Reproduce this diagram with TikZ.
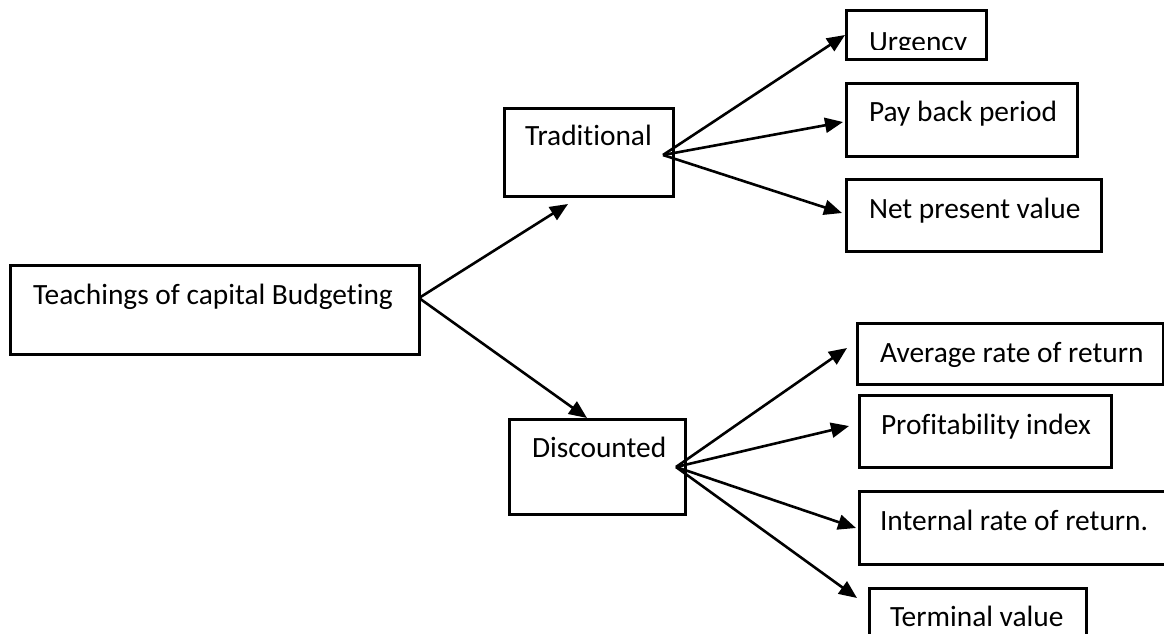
\documentclass[tikz,border=0pt]{standalone}
\usepackage{fontspec}
\setmainfont{Carlito}[Ligatures=NoCommon]
\usetikzlibrary{arrows.meta}
\tikzset{
  box/.style={draw=black, line width=3pt, fill=none, inner sep=0pt, outer sep=0pt},
  lbl/.style={anchor=base west, inner sep=0pt, outer sep=0pt, text=black, font=\fontsize{29.4}{34}\selectfont},
  arr/.style={draw=black, line width=2.6pt, -{Triangle[length=18pt,width=15pt]}}
}
\begin{document}
\begin{tikzpicture}[x=1pt,y=-1pt]
\useasboundingbox (0,0) rectangle (1164,633);
\clip (0,0) rectangle (1164,633);
\fill[white] (0,0) rectangle (1164,633);
% boxes
\node[box, minimum width=409pt, minimum height=89pt] (teach) at (214.5,309.5) {};
\node[box, minimum width=169pt, minimum height=88pt] (trad) at (588.5,152) {};
\node[box, minimum width=176pt, minimum height=95pt] (disc) at (597,466.5) {};
\node[box, minimum width=140pt, minimum height=49pt] (urg) at (916,34.5) {};
\node[box, minimum width=231pt, minimum height=73pt] (pay) at (961.5,119.5) {};
\node[box, minimum width=255pt, minimum height=72pt] (npv) at (973.5,215) {};
\node[box, minimum width=306pt, minimum height=61pt] (avg) at (1010,353.5) {};
\node[box, minimum width=252pt, minimum height=72pt] (prof) at (985,431) {};
\node[box, minimum width=311pt, minimum height=73pt] (irr) at (1014.5,527.5) {};
\node[box, minimum width=217pt, minimum height=72pt] (term) at (977.5,624) {};
% texts
\node[lbl] (teachT) at (33,304) {Teachings of capital Budgeting};
\node[lbl] (tradT) at (525,145) {Traditional};
\node[lbl] (discT) at (532,457) {Discounted};
\begin{scope}
\clip (846,10) rectangle (987,49);
\node[lbl] (urgT) at (869,51) {Urgency};
\end{scope}
\node[lbl] (payT) at (869,121) {Pay back period};
\node[lbl] (npvT) at (869,218) {Net present value};
\node[lbl] (avgT) at (880,362) {Average rate of return};
\node[lbl] (profT) at (881,434) {Profitability index};
\node[lbl] (irrT) at (880,530) {Internal rate of return.};
\node[lbl] (termT) at (890,626) {Terminal value};
% connector points
\coordinate (teachO) at (419,298);
\coordinate (tradIn) at (568,204);
\coordinate (discIn) at (587,418);
\coordinate (tradO) at (663,155);
\coordinate (urgIn) at (845,35);
\coordinate (payIn) at (843,122);
\coordinate (npvIn) at (842,213);
\coordinate (discO) at (676,467);
\coordinate (avgIn) at (847,348);
\coordinate (profIn) at (849,426);
\coordinate (irrIn) at (856,528);
\coordinate (termIn) at (857,598);
% arrows
\draw[arr] (teachO) -- (tradIn);
\draw[arr] (teachO) -- (discIn);
\draw[arr] (tradO) -- (urgIn);
\draw[arr] (tradO) -- (payIn);
\draw[arr] (tradO) -- (npvIn);
\draw[arr] (discO) -- (avgIn);
\draw[arr] (discO) -- (profIn);
\draw[arr] (discO) -- (irrIn);
\draw[arr] (discO) -- (termIn);
\end{tikzpicture}
\end{document}
